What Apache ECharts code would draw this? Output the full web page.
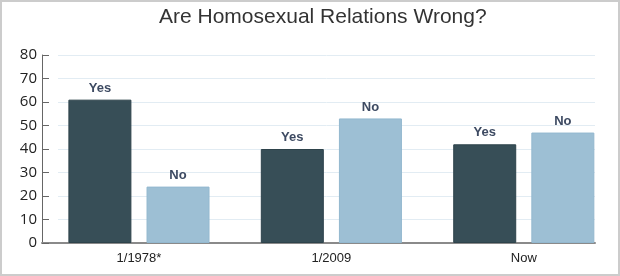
<!DOCTYPE html>
<html>
<head>
<meta charset="utf-8">
<script src="https://cdn.jsdelivr.net/npm/echarts@6/dist/echarts.min.js"></script>
<style>html,body{margin:0;padding:0;background:#fff}#c{width:620px;height:276px}</style>
</head>
<body>
<div id="c"></div>
<script>
var title = 'Are Homosexual Relations Wrong?';
var categories = ['1/1978*', '1/2009', 'Now'];
var yesValues = [61, 40, 42];
var noValues = [24, 53, 47];
var yTicks = [0, 10, 20, 30, 40, 50, 60, 70, 80];

var chart = echarts.init(document.getElementById('c'), null, {renderer: 'canvas'});
var gridTop = 55, gridBottom = 33;
var labelStyle = {show: true, position: 'top', distance: 5, color: '#3d4a62', fontFamily: 'Liberation Sans, Arial, sans-serif', fontWeight: 'bold', fontSize: 13};
chart.setOption({
  animation: false,
  title: {text: title, left: 154, top: 2, textStyle: {fontFamily: 'Liberation Sans, Arial, sans-serif', fontWeight: 'normal', fontSize: 21, color: '#333'}},
  graphic: [{type: 'rect', shape: {x: 1, y: 1, width: 618, height: 274}, style: {fill: 'none', stroke: '#cccccc', lineWidth: 2, lineJoin: 'miter'}, z: 100}],
  grid: [
    {left: 42.75, right: 0, top: gridTop, bottom: gridBottom},
    {left: 42, right: 25, top: gridTop, bottom: gridBottom},
    {left: 58, right: 25, top: gridTop, bottom: gridBottom}
  ],
  xAxis: [
    {gridIndex: 0, type: 'category', data: categories, axisLine: {show: false}, axisTick: {show: false},
     axisLabel: {margin: 9, color: '#222', fontSize: 13, fontFamily: 'Liberation Sans, Arial, sans-serif'}},
    {gridIndex: 1, type: 'value', min: 0, max: 1, axisLine: {show: true, onZero: false, lineStyle: {color: '#8a8a8a', width: 2}},
     axisTick: {show: false}, axisLabel: {show: false}, splitLine: {show: false}},
    {gridIndex: 2, type: 'value', min: 0, max: 1, show: false}
  ],
  yAxis: [
    {gridIndex: 0, type: 'value', min: yTicks[0], max: yTicks[yTicks.length - 1], interval: 10, show: false},
    {gridIndex: 1, type: 'value', min: yTicks[0], max: yTicks[yTicks.length - 1], interval: 10,
     axisLine: {show: true, lineStyle: {color: '#666', width: 1}},
     axisTick: {show: true, inside: true, length: 7, lineStyle: {color: '#666'}},
     axisLabel: {margin: 5, color: '#222', fontSize: 15, fontFamily: 'Open Sans, sans-serif'},
     splitLine: {show: false}},
    {gridIndex: 2, type: 'value', min: yTicks[0], max: yTicks[yTicks.length - 1], interval: 10,
     axisLine: {show: false}, axisTick: {show: false}, axisLabel: {show: false},
     splitLine: {show: true, lineStyle: {color: '#e2ecf3', width: 1}}}
  ],
  series: [
    {name: 'Yes', type: 'bar', xAxisIndex: 0, yAxisIndex: 0, data: yesValues, barWidth: 63, barGap: '24%',
     itemStyle: {color: '#374e57', borderColor: '#2e434b', borderWidth: 1},
     label: Object.assign({formatter: 'Yes'}, labelStyle)},
    {name: 'No', type: 'bar', xAxisIndex: 0, yAxisIndex: 0, data: noValues, barWidth: 63,
     itemStyle: {color: '#9dbfd4', borderColor: '#93b8cf', borderWidth: 1},
     label: Object.assign({formatter: 'No'}, labelStyle)}
  ]
});
</script>
</body>
</html>
